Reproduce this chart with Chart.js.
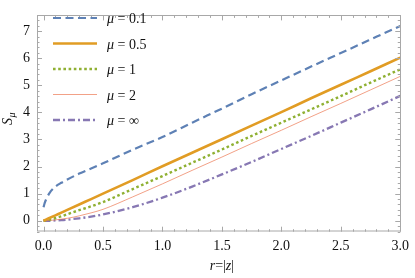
<!DOCTYPE html>
<html><head><meta charset="utf-8">
<script src="https://cdn.jsdelivr.net/npm/chart.js@4/dist/chart.umd.min.js"></script>
<style>html,body{margin:0;padding:0;background:#fff;}#wrap{width:415px;height:278px;}</style>
</head><body><div id="wrap"><canvas id="c" width="415" height="278"></canvas></div>
<script>
// ---- data ----
const rValues   = [0, 0.01, 0.025, 0.05, 0.1, 0.15, 0.2, 0.3, 0.4, 0.5, 0.75, 1.0, 1.25, 1.5, 1.75, 2.0, 2.25, 2.5, 2.75, 3.0];
const muLabels  = ['0.1', '0.5', '1', '2', '\u221E'];
const sMu01     = [0.50, 0.66, 0.82, 1.02, 1.26, 1.40, 1.52, 1.74, 1.93, 2.12, 2.62, 3.09, 3.62, 4.14, 4.67, 5.18, 5.69, 6.19, 6.69, 7.19];
const sMu05     = [0.00, 0.02, 0.05, 0.10, 0.20, 0.30, 0.40, 0.60, 0.80, 1.00, 1.50, 2.01, 2.51, 3.01, 3.51, 4.01, 4.52, 5.02, 5.52, 6.02];
const sMu1      = [0.00, 0.01, 0.02, 0.04, 0.10, 0.16, 0.24, 0.39, 0.53, 0.69, 1.17, 1.65, 2.14, 2.63, 3.13, 3.62, 4.11, 4.60, 5.10, 5.59];
const sMu2      = [0.00, 0.00, 0.00, 0.01, 0.03, 0.06, 0.09, 0.18, 0.29, 0.42, 0.88, 1.36, 1.86, 2.35, 2.85, 3.34, 3.84, 4.33, 4.83, 5.33];
const sMuInf    = [0.00, 0.00, 0.00, 0.00, 0.01, 0.02, 0.04, 0.09, 0.15, 0.23, 0.50, 0.85, 1.26, 1.71, 2.17, 2.65, 3.13, 3.62, 4.11, 4.61];
const xTickValues = [0, 0.5, 1, 1.5, 2, 2.5, 3];
const xTickLabels = ['0.0', '0.5', '1.0', '1.5', '2.0', '2.5', '3.0'];
const yTickValues = [0, 1, 2, 3, 4, 5, 6, 7];
const yTickLabels = ['0', '1', '2', '3', '4', '5', '6', '7'];

const SERIF = '"Liberation Serif", "DejaVu Serif", serif';
const toPts = arr => arr.map((v, i) => ({x: rValues[i], y: v}));

const seriesStyles = [
  {color: '#5E81B5', width: 2.2, dash: [8, 4.5]},
  {color: '#E19C24', width: 2.6, dash: []},
  {color: '#8FB032', width: 2.4, dash: [2.6, 2.6]},
  {color: 'rgba(235,110,70,0.65)', width: 1, dash: []},
  {color: '#8778B3', width: 2.3, dash: [7, 3, 2, 3]}
];
const seriesData = [sMu01, sMu05, sMu1, sMu2, sMuInf];

const datasets = seriesData.map((d, i) => ({
  label: '\u03BC = ' + muLabels[i],
  data: toPts(d),
  borderColor: seriesStyles[i].color,
  borderWidth: seriesStyles[i].width,
  borderDash: seriesStyles[i].dash,
  pointRadius: 0,
  fill: false,
  cubicInterpolationMode: 'monotone',
  borderCapStyle: 'butt'
}));

const frameColor = '#a8a8a8';

const framePlugin = {
  id: 'frame',
  afterDatasetsDraw(chart) {
    const {ctx, chartArea: a, scales: {x, y}} = chart;
    ctx.save();
    ctx.strokeStyle = frameColor;
    ctx.lineWidth = 1;
    ctx.setLineDash([]);
    ctx.strokeRect(Math.round(a.left) + 0.5, Math.round(a.top) + 0.5, Math.round(a.right - a.left), Math.round(a.bottom - a.top) - 0.5);
    ctx.beginPath();
    for (let k = 0; k <= 30; k++) {
      const v = k / 10;
      if (v < x.min || v > x.max) continue;
      const px = Math.round(x.getPixelForValue(v)) + 0.5;
      const len = (k % 5 === 0) ? 5 : 2.5;
      ctx.moveTo(px, a.bottom); ctx.lineTo(px, a.bottom - len);
      ctx.moveTo(px, a.top); ctx.lineTo(px, a.top + len);
    }
    for (let k = -2; k <= 38; k++) {
      const v = k / 5;
      if (v < y.min || v > y.max) continue;
      const py = Math.round(y.getPixelForValue(v)) + 0.5;
      const len = (k % 5 === 0) ? 5 : 2.5;
      ctx.moveTo(a.left, py); ctx.lineTo(a.left + len, py);
      ctx.moveTo(a.right, py); ctx.lineTo(a.right - len, py);
    }
    ctx.stroke();
    ctx.restore();
  },
  afterDraw(chart) {
    const {ctx, scales: {x}} = chart;
    ctx.save();
    ctx.fillStyle = '#111';
    const legX0 = 53, legX1 = 97, textX = 107, legY0 = 18, legDy = 25.5;
    chart.data.datasets.forEach((ds, i) => {
      const yy = legY0 + i * legDy;
      ctx.save();
      ctx.strokeStyle = ds.borderColor;
      ctx.lineWidth = ds.borderWidth;
      ctx.setLineDash(ds.borderDash);
      ctx.beginPath(); ctx.moveTo(legX0, yy); ctx.lineTo(legX1, yy); ctx.stroke();
      ctx.restore();
      ctx.textBaseline = 'alphabetic';
      ctx.textAlign = 'left';
      ctx.font = 'italic 14px ' + SERIF;
      ctx.fillText('\u03BC', textX, yy + 5);
      const w = ctx.measureText('\u03BC').width;
      ctx.font = '14px ' + SERIF;
      ctx.fillText(' = ' + muLabels[i], textX + w, yy + 5);
    });
    const parts = [['r', true], ['=', false], ['|', false], ['z', true], ['|', false]];
    let total = 0;
    parts.forEach(p => { ctx.font = (p[1] ? 'italic ' : '') + '14px ' + SERIF; total += ctx.measureText(p[0]).width; });
    let cx = x.getPixelForValue(1.5) - total / 2;
    parts.forEach(p => { ctx.font = (p[1] ? 'italic ' : '') + '14px ' + SERIF; ctx.fillText(p[0], cx, 270); cx += ctx.measureText(p[0]).width; });
    ctx.translate(12, 118);
    ctx.rotate(-Math.PI / 2);
    ctx.font = 'italic 14px ' + SERIF;
    ctx.fillText('S', -7, 0);
    ctx.font = 'italic 10px ' + SERIF;
    ctx.fillText('\u03BC', 0.5, 3);
    ctx.restore();
  }
};

new Chart(document.getElementById('c'), {
  type: 'line',
  data: {datasets},
  plugins: [framePlugin],
  options: {
    responsive: false,
    devicePixelRatio: 1,
    animation: false,
    layout: {padding: {top: 1, right: 9, left: 0, bottom: 0}},
    plugins: {legend: {display: false}, tooltip: {enabled: false}},
    scales: {
      x: {
        type: 'linear', min: -0.055, max: 3.0,
        afterBuildTicks: s => { s.ticks = xTickValues.map(v => ({value: v})); },
        afterFit: s => { s.height = 46.3; },
        ticks: {callback: (v, i) => xTickLabels[i], autoSkip: false, maxRotation: 0, padding: 6, color: '#111', font: {family: SERIF, size: 14}},
        grid: {display: false, drawTicks: false},
        border: {display: false}
      },
      y: {
        type: 'linear', min: -0.405, max: 7.58,
        afterBuildTicks: s => { s.ticks = yTickValues.map(v => ({value: v})); },
        afterFit: s => { s.width = 37; },
        ticks: {callback: (v, i) => yTickLabels[i], autoSkip: false, padding: 7, color: '#111', font: {family: SERIF, size: 14}},
        grid: {display: false, drawTicks: false},
        border: {display: false}
      }
    }
  }
});
</script>
</body></html>
